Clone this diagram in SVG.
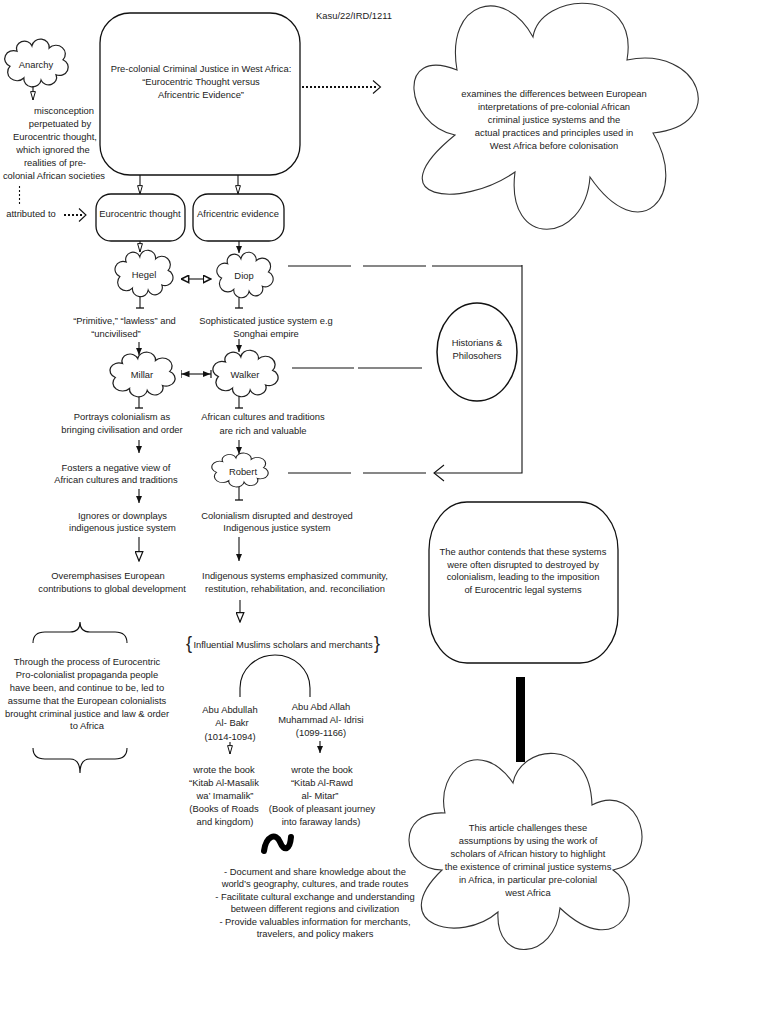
<svg xmlns="http://www.w3.org/2000/svg" xmlns:xlink="http://www.w3.org/1999/xlink" width="768" height="1024" viewBox="0 0 768 1024">
<style>
  text { font-family: "Liberation Sans", Arial, sans-serif; font-size: 9.4px; fill: #222; text-anchor: middle; }
  .shape { fill: #fff; stroke: #111; stroke-width: 1.3; }
  .cloud { fill: #fff; stroke: #222; stroke-width: 1.1; vector-effect: non-scaling-stroke; }
  .bigcloud { fill: #fff; stroke: #333; stroke-width: 1.1; }
  .ln { fill: none; stroke: #111; stroke-width: 1.1; }
  .dot { fill: none; stroke: #111; stroke-width: 2; stroke-dasharray: 2 2; }
  .brace { font-size: 18px; }
</style>
<defs>
  <path id="cl" d="M23,-3 A7.6,7.6 0 0 1 17,11 A6.96,6.96 0 0 1 4,16 A7.57,7.57 0 0 1 -11,14 A8.14,8.14 0 0 1 -23,3 A7.6,7.6 0 0 1 -17,-11 A6.96,6.96 0 0 1 -4,-16 A7.57,7.57 0 0 1 11,-14 A8.14,8.14 0 0 1 23,-3 Z"/>
  <marker id="af" markerUnits="userSpaceOnUse" markerWidth="7" markerHeight="6" refX="7" refY="3" orient="auto"><path d="M0,0 L7,3 L0,6 z" fill="#111"/></marker>
  <marker id="ao" markerUnits="userSpaceOnUse" markerWidth="10" markerHeight="6" refX="9" refY="3" orient="auto"><path d="M0.6,0.6 L9,3 L0.6,5.4 z" fill="#fff" stroke="#111" stroke-width="1"/></marker>
  <marker id="aoL" markerUnits="userSpaceOnUse" markerWidth="11" markerHeight="9" refX="10" refY="4.5" orient="auto"><path d="M0.7,0.7 L10,4.5 L0.7,8.3 z" fill="#fff" stroke="#111" stroke-width="1.2"/></marker>
  <marker id="adbl" markerUnits="userSpaceOnUse" markerWidth="9" markerHeight="9" refX="8.5" refY="4.5" orient="auto-start-reverse"><path d="M0.8,0.8 L8.2,4.5 L0.8,8.2 z" fill="#fff" stroke="#111" stroke-width="1.5"/></marker>
  <marker id="afb" markerUnits="userSpaceOnUse" markerWidth="9" markerHeight="9" refX="8.5" refY="4.5" orient="auto-start-reverse"><path d="M0,1.2 L8,4.5 L0,7.8 z" fill="#111"/><path d="M8.5,0.5 V8.5" stroke="#111" stroke-width="1.2"/></marker>
  <marker id="tee" markerUnits="userSpaceOnUse" markerWidth="2" markerHeight="8" refX="1" refY="4" orient="auto"><path d="M1,0 V8" stroke="#111" stroke-width="1.3"/></marker>
</defs>

<text id="ref" x="354" y="19">Kasu/22/IRD/1211</text>

<g id="main-box">
  <rect class="shape" x="100" y="13" width="200" height="162" rx="30" ry="30" stroke-width="1.6"/>
  <text x="201" y="72">Pre-colonial Criminal Justice in West Africa:</text>
  <text x="201" y="85">“Eurocentric Thought versus</text>
  <text x="201" y="98">Africentric Evidence”</text>
</g>

<g id="summary-cloud">
  <path class="bigcloud" d="M457,70 C445,0 505,-15 533,37 C540,-8 640,-15 627,60 C700,45 730,125 653,133 C690,195 640,250 590,177 C585,245 505,250 515,172 C460,210 375,200 455,135 C405,125 395,45 457,70 Z"/>
  <text x="554" y="97">examines the differences between European</text>
  <text x="554" y="110">interpretations of pre-colonial African</text>
  <text x="554" y="123">criminal justice systems and the</text>
  <text x="554" y="136">actual practices and principles used in</text>
  <text x="554" y="149">West Africa before colonisation</text>
</g>

<g id="anarchy">
  <use href="#cl" class="cloud" transform="translate(36.5,63) scale(1.15,1.07)"/>
  <text x="36" y="68">Anarchy</text>
</g>

<g id="misconception">
  <text x="64" y="113.5">misconception</text>
  <text x="60" y="126.5">perpetuated by</text>
  <text x="55" y="139.5">Eurocentric thought,</text>
  <text x="53" y="152.5">which ignored the</text>
  <text x="55" y="165.5">realities of pre-</text>
  <text x="54" y="179">colonial African societies</text>
</g>

<g id="attributed">
  <text x="31" y="217">attributed to</text>
</g>

<g id="eurocentric-thought">
  <rect class="shape" x="96" y="194" width="89" height="47" rx="15" ry="15"/>
  <text x="140" y="217">Eurocentric thought</text>
</g>
<g id="africentric-evidence">
  <rect class="shape" x="193" y="194" width="91" height="47" rx="15" ry="15"/>
  <text x="238" y="217">Africentric evidence</text>
</g>

<g id="hegel">
  <use href="#cl" class="cloud" transform="translate(144,273.5) scale(1.05,1.04)"/>
  <text x="144" y="278">Hegel</text>
</g>
<g id="diop">
  <use href="#cl" class="cloud" transform="translate(245,275) scale(1.02,1.02)"/>
  <text x="244" y="279">Diop</text>
</g>

<g id="primitive">
  <text x="124.5" y="323.5">“Primitive,” “lawless” and</text>
  <text x="116" y="336.5">“uncivilised”</text>
</g>
<g id="sophisticated">
  <text x="266" y="323.5">Sophisticated justice system e.g</text>
  <text x="266" y="336.5">Songhai empire</text>
</g>

<g id="millar">
  <use href="#cl" class="cloud" transform="translate(142.5,374.5) scale(1.18,1)"/>
  <text x="142" y="378">Millar</text>
</g>
<g id="walker">
  <use href="#cl" class="cloud" transform="translate(245.5,373.5) scale(1.18,1.04)"/>
  <text x="245" y="378">Walker</text>
</g>

<g id="historians">
  <ellipse cx="477" cy="352" rx="40" ry="49" fill="#fff" stroke="#111" stroke-width="1.5"/>
  <text x="477" y="345.5">Historians &amp;</text>
  <text x="477" y="358.5">Philosohers</text>
</g>

<g id="portrays">
  <text x="122" y="420">Portrays colonialism as</text>
  <text x="122" y="433">bringing civilisation and order</text>
</g>
<g id="rich">
  <text x="263" y="420">African cultures and traditions</text>
  <text x="263" y="434">are rich and valuable</text>
</g>
<g id="fosters">
  <text x="116" y="470.5">Fosters a negative view of</text>
  <text x="116" y="483">African cultures and traditions</text>
</g>
<g id="robert">
  <use href="#cl" class="cloud" transform="translate(240,470) scale(1.02,0.76)"/>
  <text x="243" y="475">Robert</text>
</g>
<g id="ignores">
  <text x="122.5" y="518.5">Ignores or downplays</text>
  <text x="122.5" y="531">indigenous justice system</text>
</g>
<g id="disrupted">
  <text x="277" y="518.5">Colonialism disrupted and destroyed</text>
  <text x="277" y="531">Indigenous justice system</text>
</g>
<g id="overemphasises">
  <text x="108" y="578.5">Overemphasises European</text>
  <text x="112" y="591.5">contributions to global development</text>
</g>
<g id="indigenous-systems">
  <text x="295" y="578.5">Indigenous systems emphasized community,</text>
  <text x="295" y="591.5">restitution, rehabilitation, and. reconciliation</text>
</g>

<g id="author-box">
  <rect class="shape" x="429" y="502" width="189" height="161" rx="38" ry="48"/>
  <text x="523" y="555">The author contends that these systems</text>
  <text x="523" y="567.5">were often disrupted to destroyed by</text>
  <text x="523" y="580">colonialism, leading to the imposition</text>
  <text x="523" y="592.5">of Eurocentric legal systems</text>
</g>

<g id="propaganda">
  <path class="ln" stroke-width="1.5" d="M33,643 Q33,632 45,632 L70,632 Q80,632 80,622 Q80,632 90,632 L115,632 Q127,632 127,643"/>
  <text x="87" y="664.5">Through the process of Eurocentric</text>
  <text x="87" y="677.5">Pro-colonialist propaganda people</text>
  <text x="87" y="690.5">have been, and continue to be, led to</text>
  <text x="87" y="703.5">assume that the European colonialists</text>
  <text x="87" y="716.5">brought criminal justice and law &amp; order</text>
  <text x="87" y="729">to Africa</text>
  <path class="ln" stroke-width="1.5" d="M33,748 Q33,759 45,759 L70,759 Q80,759 80,773 Q80,759 90,759 L115,759 Q127,759 127,748"/>
</g>

<g id="muslim-scholars">
  <text class="brace" x="189" y="649">{</text>
  <text x="283" y="647.5">Influential Muslims scholars and merchants</text>
  <text class="brace" x="377" y="649">}</text>
</g>

<g id="al-bakr">
  <text x="230" y="712.5">Abu Abdullah</text>
  <text x="232" y="726">Al- Bakr</text>
  <text x="230" y="740">(1014-1094)</text>
</g>
<g id="al-idrisi">
  <text x="321" y="709.5">Abu Abd Allah</text>
  <text x="321" y="722.5">Muhammad Al- Idrisi</text>
  <text x="321" y="735.5">(1099-1166)</text>
</g>
<g id="book-bakr">
  <text x="224" y="772.5">wrote the book</text>
  <text x="224" y="785.5">“Kitab Al-Masalik</text>
  <text x="225" y="798.5">wa’ Imamalik”</text>
  <text x="224" y="811.5">(Books of Roads</text>
  <text x="225" y="824.5">and kingdom)</text>
</g>
<g id="book-idrisi">
  <text x="322" y="772.5">wrote the book</text>
  <text x="322" y="785.5">“Kitab Al-Rawd</text>
  <text x="320" y="798.5">al- Mitar”</text>
  <text x="322" y="811.5">(Book of pleasant journey</text>
  <text x="321" y="824.5">into faraway lands)</text>
</g>

<g id="purposes">
  <text x="315" y="874.5">- Document and share knowledge about the</text>
  <text x="315" y="887">world’s geography, cultures, and trade routes</text>
  <text x="315" y="899.5">- Facilitate cultural exchange and understanding</text>
  <text x="315" y="912">between different regions and civilization</text>
  <text x="315" y="924.5">- Provide valuables information for merchants,</text>
  <text x="315" y="937">travelers, and policy makers</text>
</g>

<g id="article-cloud">
  <path class="bigcloud" d="M445,813 C435,770 480,735 513,783 C520,745 590,735 592,805 C640,780 665,860 613,870 C650,895 620,965 560,908 C555,960 495,965 498,912 C460,945 385,925 442,870 C400,870 395,810 445,813 Z"/>
  <text x="528" y="830.5">This article challenges these</text>
  <text x="528" y="843.5">assumptions by using the work of</text>
  <text x="528" y="856.5">scholars of African history to highlight</text>
  <text x="528" y="869.5">the existence of criminal justice systems</text>
  <text x="528" y="882.5">in Africa, in particular pre-colonial</text>
  <text x="528" y="895.5">west Africa</text>
</g>

<g id="connectors">
  <line class="ln" x1="140" y1="175" x2="140" y2="194" marker-end="url(#ao)"/>
  <line class="ln" x1="238" y1="175" x2="238" y2="194" marker-end="url(#ao)"/>
  <line class="ln" x1="140" y1="241" x2="140" y2="252" marker-end="url(#ao)"/>
  <line class="ln" x1="239" y1="241" x2="239" y2="253" marker-end="url(#af)"/>
  <line class="ln" x1="33" y1="86" x2="33" y2="100" marker-end="url(#ao)"/>
  <line class="ln" x1="19.5" y1="186" x2="19.5" y2="206" stroke-dasharray="2 2"/>
  <path class="dot" d="M64,215 H84"/>
  <path class="ln" stroke-width="1.3" d="M79,208.5 L86,215 L79,221.5"/>
  <path class="dot" d="M302,87 H378"/>
  <path class="ln" stroke-width="1.3" d="M373,80.5 L380.5,87 L373,93.5"/>
  <line class="ln" x1="181" y1="279" x2="211" y2="279" stroke-width="1.4" marker-start="url(#adbl)" marker-end="url(#adbl)"/>
  <line class="ln" x1="140" y1="296" x2="140" y2="308" marker-end="url(#tee)"/>
  <line class="ln" x1="239" y1="297" x2="239" y2="308" marker-end="url(#tee)"/>
  <line class="ln" x1="139" y1="342" x2="139" y2="355" marker-end="url(#af)"/>
  <line class="ln" x1="239" y1="339" x2="239" y2="352" marker-end="url(#af)"/>
  <line class="ln" x1="181" y1="374" x2="211" y2="374" stroke-width="1.4" marker-start="url(#afb)" marker-end="url(#afb)"/>
  <line class="ln" x1="139" y1="397" x2="139" y2="408" marker-end="url(#tee)"/>
  <line class="ln" x1="239" y1="396" x2="239" y2="408" marker-end="url(#tee)"/>
  <line class="ln" x1="139" y1="440" x2="139" y2="453" marker-end="url(#af)"/>
  <line class="ln" x1="239" y1="440" x2="239" y2="454" marker-end="url(#af)"/>
  <line class="ln" x1="139" y1="489" x2="139" y2="503" marker-end="url(#af)"/>
  <line class="ln" x1="239" y1="487" x2="239" y2="500" marker-end="url(#tee)"/>
  <line class="ln" x1="139" y1="537" x2="139" y2="561" marker-end="url(#aoL)"/>
  <line class="ln" x1="239" y1="537" x2="239" y2="561" marker-end="url(#af)"/>
  <line class="ln" x1="240" y1="600" x2="240" y2="622" marker-end="url(#aoL)"/>
  <path class="ln" stroke-width="1.5" d="M240,697 L240,688 A35,33 0 0 1 310,688 L310,697"/>
  <line class="ln" x1="230" y1="742" x2="230" y2="754" marker-end="url(#ao)"/>
  <line class="ln" x1="320" y1="741" x2="320" y2="753" marker-end="url(#af)"/>
  <!-- links to Historians & Philosohers -->
  <path class="ln" stroke-width="1.3" d="M288,266 H351"/>
  <path class="ln" stroke-width="2" d="M363,266 H426 M432,266 H522"/>
  <path class="ln" stroke-width="1.4" d="M522,265 V473 H434"/>
  <path class="ln" stroke-width="1.4" d="M444,465 L434,473 L444,481"/>
  <path class="ln" stroke-width="1.1" d="M292,368 H354 M358,368 H422"/>
  <path class="ln" stroke-width="2" d="M288,473 H351 M363,473 H426"/>
  <rect x="516" y="677" width="9" height="85" fill="#000"/>
  <path fill="none" stroke="#000" stroke-width="6" stroke-linecap="round" d="M264,851 C266,836 276,832 280,842 C284,852 290,850 291,837"/>
</g>
</svg>
